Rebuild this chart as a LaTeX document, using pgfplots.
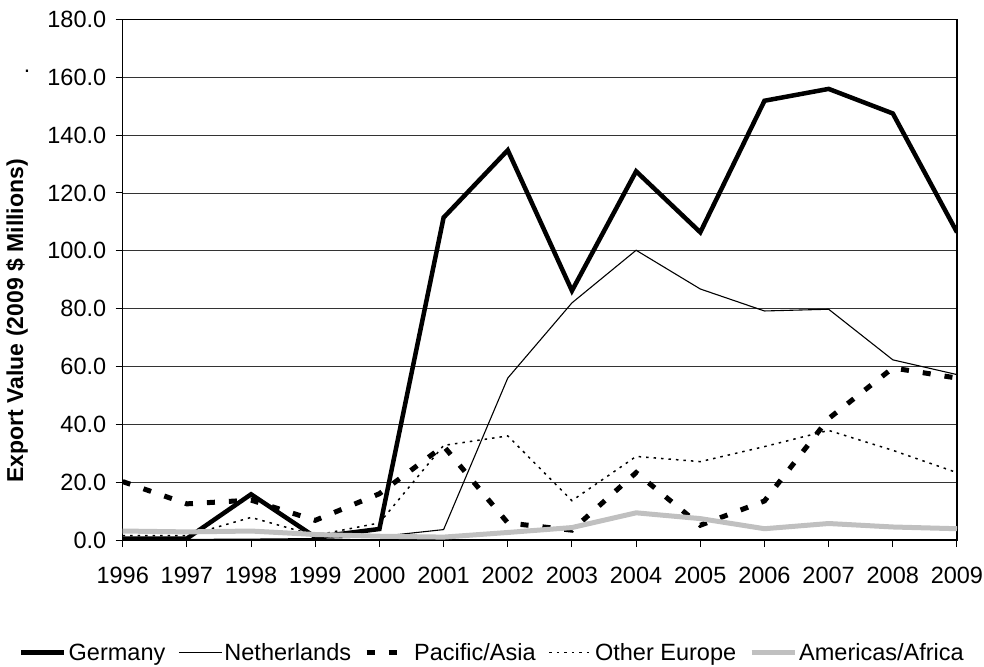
\documentclass[border=0pt]{standalone}
\usepackage{fontspec}
\setmainfont{Liberation Sans}
\usepackage{pgfplots}
\pgfplotsset{compat=1.18}
\definecolor{amgray}{RGB}{192,192,192}

\begin{document}
\begin{tikzpicture}[x=1pt,y=1pt,font=\fontsize{23}{27}\selectfont]
\useasboundingbox (0,0) rectangle (984,666);
\node[anchor=base west,inner sep=0pt] at (23.6,593.2) {.};
\begin{axis}[
  at={(122.7pt,126pt)}, anchor=south west,
  scale only axis, width=834.3pt, height=520.5pt,
  xmin=1996, xmax=2009, ymin=0, ymax=180,
  xtick={1996,...,2009}, ytick={0,20,...,180},
  tick align=outside, major tick length=7pt,
  xtick pos=bottom, ytick pos=left,
  ymajorgrids, grid style={black!80, line width=0.9pt},
  axis line style={line width=1.2pt},
  tick style={black, line width=1pt},
  /pgf/number format/assume math mode=true,
  tick label style={font=\fontsize{23.5}{28}\selectfont},
  x tick label style={/pgf/number format/1000 sep={}, yshift=-17pt},
  y tick label style={/pgf/number format/.cd, fixed, zerofill, precision=1, /tikz/.cd, xshift=-6pt},
  ylabel={\bfseries Export Value (2009 \$ Millions)},
  every axis y label/.style={at={(axis description cs:-0.1267,0.421)}, rotate=90, anchor=center},
  no markers,
  legend columns=5,
  legend style={at={(axis description cs:0.4432,-0.2165)}, anchor=center, draw=none, fill=none,
    font=\fontsize{23.5}{28}\selectfont,
    /tikz/every even column/.append style={column sep=11pt}, nodes={inner sep=2pt}},
  legend image code/.code={\draw[#1] (0pt,0pt) -- (43pt,0pt);},
]
% Germany
\addplot[black, line width=4.5pt] coordinates {
  (1996,0.5) (1997,0.5) (1998,15.8) (1999,1.0) (2000,3.8) (2001,111.5) (2002,134.8)
  (2003,86.2) (2004,127.5) (2005,106.4) (2006,151.9) (2007,156.0) (2008,147.5) (2009,106.4)
};
\addlegendentry{Germany}
% Netherlands
\addplot[black, line width=1.1pt] coordinates {
  (1996,0.2) (1997,0.2) (1998,0.3) (1999,0.5) (2000,1.2) (2001,3.6) (2002,56.0)
  (2003,82.0) (2004,100.2) (2005,86.8) (2006,79.2) (2007,79.8) (2008,62.3) (2009,57.2)
};
\addlegendentry{Netherlands}
% Pacific/Asia
\addplot[black, line width=5pt, dash pattern=on 8pt off 14pt] coordinates {
  (1996,20.2) (1997,12.5) (1998,13.8) (1999,6.8) (2000,16.0) (2001,32.5) (2002,5.9)
  (2003,3.4) (2004,23.3) (2005,5.1) (2006,13.5) (2007,42.0) (2008,59.5) (2009,56.0)
};
\addlegendentry{Pacific/Asia}
% Other Europe
\addplot[black, line width=1.5pt, dash pattern=on 2.5pt off 5pt] coordinates {
  (1996,1.5) (1997,1.5) (1998,7.8) (1999,1.6) (2000,5.9) (2001,32.7) (2002,36.0)
  (2003,13.6) (2004,28.9) (2005,27.1) (2006,32.3) (2007,37.9) (2008,31.0) (2009,23.3)
};
\addlegendentry{Other Europe}
% Americas/Africa
\addplot[amgray, line width=5pt] coordinates {
  (1996,3.1) (1997,2.8) (1998,3.1) (1999,1.9) (2000,1.3) (2001,1.0) (2002,2.6)
  (2003,4.3) (2004,9.4) (2005,7.4) (2006,3.9) (2007,5.7) (2008,4.5) (2009,3.9)
};
\addlegendentry{Americas/Africa}
\end{axis}
\end{tikzpicture}
\end{document}
